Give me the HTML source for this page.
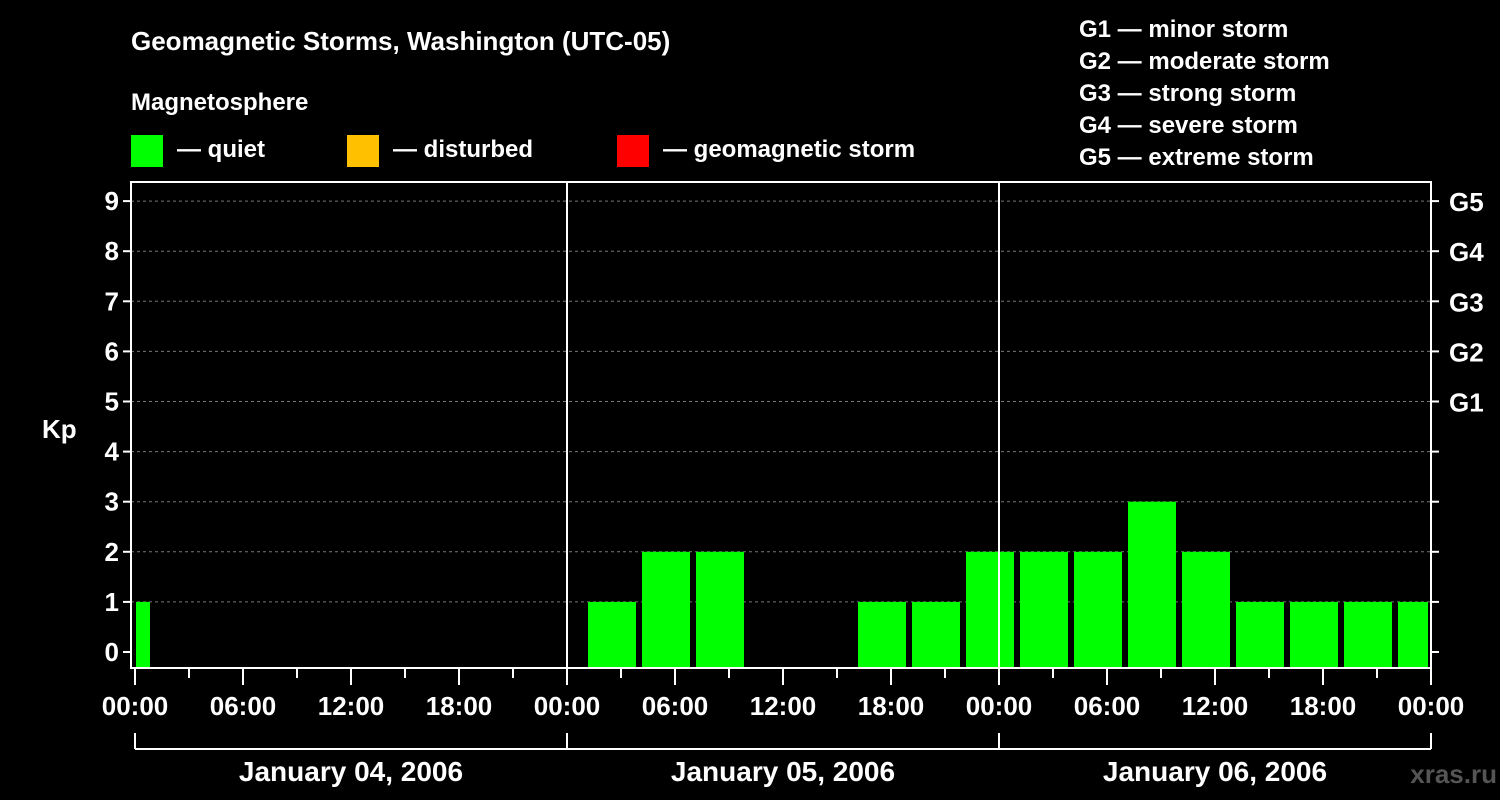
<!DOCTYPE html>
<html><head><meta charset="utf-8"><style>
body{margin:0;background:#000;}
svg{display:block;font-family:"Liberation Sans",Arial,sans-serif;font-weight:bold;}
</style></head><body>
<svg id="c" width="1500" height="800" viewBox="0 0 1500 800">
<rect width="1500" height="800" fill="#000"/>
<text x="131" y="50" fill="#fff" font-size="26">Geomagnetic Storms, Washington (UTC-05)</text>
<text x="131" y="110" fill="#fff" font-size="24">Magnetosphere</text>
<g><rect x="131" y="135" width="32" height="32" fill="#00ff00"/><text x="177" y="157" fill="#fff" font-size="24">— quiet</text></g>
<g><rect x="347" y="135" width="32" height="32" fill="#ffc000"/><text x="393" y="157" fill="#fff" font-size="24">— disturbed</text></g>
<g><rect x="617" y="135" width="32" height="32" fill="#ff0000"/><text x="663" y="157" fill="#fff" font-size="24">— geomagnetic storm</text></g>
<g fill="#fff" font-size="24">
<text x="1079" y="37">G1 — minor storm</text><text x="1079" y="69">G2 — moderate storm</text><text x="1079" y="101">G3 — strong storm</text><text x="1079" y="133">G4 — severe storm</text><text x="1079" y="165">G5 — extreme storm</text>
</g>
<text x="42" y="438" fill="#fff" font-size="26">Kp</text>
<text x="1497" y="783" fill="#555" font-size="26" text-anchor="end">xras.ru</text>
<g id="plot"></g>
</svg>
<script>
const binStarts=[-2,25,28,31,34,37,40,43,46,49,52,55,58,61,64,67,70];
const kpValues=[1,1,2,2,0,0,1,1,2,2,2,3,2,1,1,1,1];
const yTicks=[0,1,2,3,4,5,6,7,8,9];
const gLabels=["G1","G2","G3","G4","G5"];
const xTickLabels=["00:00","06:00","12:00","18:00","00:00","06:00","12:00","18:00","00:00","06:00","12:00","18:00","00:00"];
const dayLabels=["January 04, 2006","January 05, 2006","January 06, 2006"];
const NS="http://www.w3.org/2000/svg";
const g=document.getElementById('plot');
const X=h=>135+h*18, Y=v=>652-v*50.1;
const L=131,R=1431,T=182,B=668;
function el(t,a){const e=document.createElementNS(NS,t);for(const k in a)e.setAttribute(k,a[k]);g.appendChild(e);return e;}
yTicks.forEach(v=>{
 if(v>=1){const d=el('line',{x1:L,x2:R,y1:Y(v),y2:Y(v),stroke:'#777','stroke-dasharray':'3,3'});}
 el('line',{x1:L-8,x2:L,y1:Y(v),y2:Y(v),stroke:'#fff','stroke-width':2});
 el('line',{x1:R,x2:R+8,y1:Y(v),y2:Y(v),stroke:'#fff','stroke-width':2});
 const t=el('text',{x:L-12,y:Y(v)+9,fill:'#fff','font-size':26,'text-anchor':'end'});t.textContent=v;
 
});
gLabels.forEach((s,i)=>{const t=el('text',{x:1449,y:Y(5+i)+10,fill:'#fff','font-size':26});t.textContent=s;
 });
binStarts.forEach((h,i)=>{
 let x0=Math.max(X(h)+3,X(0)+1), x1=Math.min(X(h+3)-3,X(72)-3);
 const v=kpValues[i]; if(v<=0)return;
 const r=el('rect',{x:x0,y:Y(v),width:x1-x0,height:B-Y(v)-1,fill:'#00ff00'});
 
});
[24,48].forEach(h=>el('line',{x1:X(h),x2:X(h),y1:T,y2:B,stroke:'#fff','stroke-width':2}));
const f=el('rect',{x:L,y:T,width:R-L,height:B-T,fill:'none',stroke:'#fff','stroke-width':2});

for(let h=0;h<=72;h+=3){el('line',{x1:X(h),x2:X(h),y1:B,y2:h%6?B+10:B+17,stroke:'#fff','stroke-width':2});}
xTickLabels.forEach((s,i)=>{const t=el('text',{x:X(i*6),y:715,fill:'#fff','font-size':26,'text-anchor':'middle'});t.textContent=s;
 });
el('line',{x1:X(0),x2:X(72),y1:749,y2:749,stroke:'#fff','stroke-width':2});
[0,24,48,72].forEach(h=>el('line',{x1:X(h),x2:X(h),y1:733,y2:749,stroke:'#fff','stroke-width':2}));
dayLabels.forEach((s,i)=>{const t=el('text',{x:X(i*24+12),y:781,fill:'#fff','font-size':28,'text-anchor':'middle'});t.textContent=s;
 });
</script>
</body></html>
